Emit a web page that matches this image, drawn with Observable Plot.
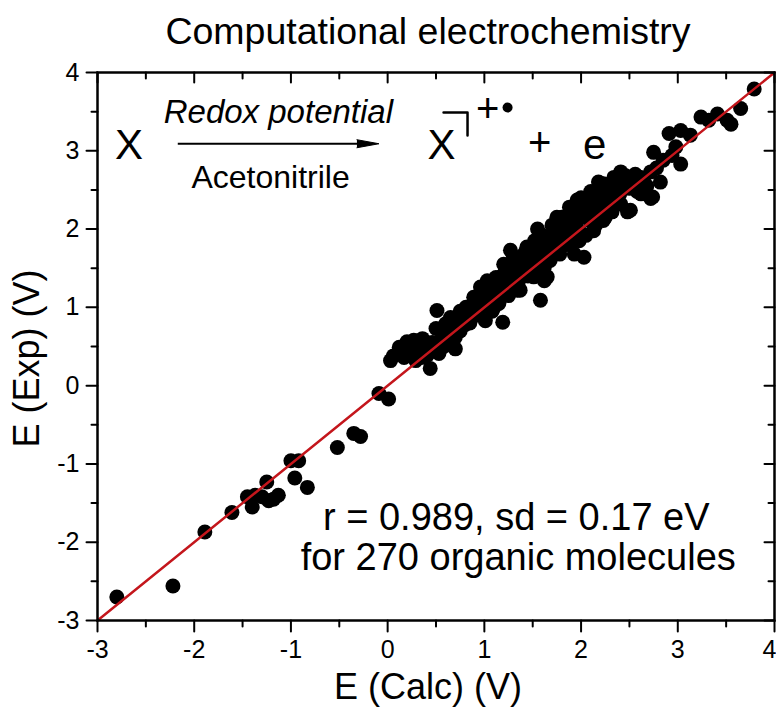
<!DOCTYPE html>
<html><head><meta charset="utf-8">
<script src="https://cdn.jsdelivr.net/npm/d3@7"></script>
<script src="https://cdn.jsdelivr.net/npm/@observablehq/plot@0.6"></script>
<style>body{margin:0;background:#fff}</style>
</head><body><div id="chart"></div>
<script>
// E (Calc) values, V
const calc = [
 -2.80,-2.22,-1.89,-1.61,-1.45,-1.40,-1.37,-1.30,-1.25,-1.23,
 -1.13,-1.18,-1.00,-0.92,-0.96,-0.83,-0.52,-0.35,-0.28,-0.09,
  0.01, 0.03, 0.06, 0.12, 0.20, 0.27, 0.36, 0.17, 0.29, 0.44,
  0.41, 0.53, 0.70, 0.51, 0.50, 0.60, 0.65, 0.75, 0.84, 0.93,
  0.86, 1.01, 1.19, 1.05, 1.13, 1.24, 1.34, 1.58, 1.51, 1.65,
  0.22, 0.32, 0.38, 0.46, 0.58, 0.63, 0.68, 0.72, 0.78, 0.80,
  0.88, 0.90, 0.95, 0.98, 0.55, 0.62, 0.48, 0.25, 0.70, 0.92,
  1.55, 1.27, 1.03, 0.89, 0.81, 1.17, 1.37, 1.44, 1.62, 1.72,
  1.82, 1.75, 1.89, 1.96, 2.03, 1.93, 1.62, 1.37, 2.13, 2.23,
  2.34, 2.41, 2.51, 2.23, 2.13, 2.62, 2.74, 2.62, 1.10, 0.96,
  2.75, 2.91, 3.03, 3.13, 3.24, 3.41, 3.55, 3.65, 3.79, 3.03,
  2.94, 2.72, 2.82, 2.72, 2.48, 2.41, 2.55, 2.27, 3.51, 3.32,
  1.05, 1.08, 1.12, 1.15, 1.18, 1.20, 1.22, 1.25, 1.28, 1.30,
  1.32, 1.35, 1.38, 1.40, 1.42, 1.45, 1.48, 1.50, 1.52, 1.55,
  1.58, 1.60, 1.63, 1.65, 1.68, 1.70, 1.73, 1.76, 1.78, 1.80,
  1.83, 1.85, 1.88, 1.90, 1.93, 1.95, 1.98, 2.00, 2.02, 2.05,
  2.08, 2.10, 2.12, 2.15, 2.18, 2.20, 2.22, 2.25, 2.28, 2.30,
  2.33, 2.36, 2.38, 2.40, 2.44, 2.46, 2.50, 2.53, 2.56, 2.58,
  2.65, 2.68, 2.78, 2.85, 2.98, 1.08, 1.15, 1.25, 1.35, 1.45,
  1.55, 1.68, 1.78, 1.88, 1.98, 2.05, 2.15, 2.25, 2.32, 1.00,
  1.12, 1.20, 1.30, 1.42, 1.52, 1.60, 1.70, 1.80, 1.88, 2.00,
  2.10, 2.18, 0.40, 0.30, 0.15, 0.35, 0.58, 0.75, 0.85, 0.66
];
// E (Exp) values, V
const expt = [
 -2.70,-2.56,-1.87,-1.62,-1.42,-1.55,-1.40,-1.42,-1.23,-1.47,
 -1.40,-1.45,-0.96,-0.96,-1.18,-1.30,-0.79,-0.61,-0.65,-0.10,
 -0.17, 0.32, 0.38, 0.49, 0.56, 0.58, 0.60, 0.36, 0.32, 0.22,
  0.39, 0.41, 0.47, 0.96, 0.73, 0.79, 0.87, 0.70, 1.00, 1.13,
  0.87, 0.83, 0.81, 1.30, 1.09, 1.39, 1.22, 1.09, 1.39, 1.39,
  0.48, 0.45, 0.52, 0.55, 0.62, 0.70, 0.78, 0.85, 0.90, 0.78,
  0.95, 1.05, 0.98, 1.08, 0.58, 0.55, 0.45, 0.40, 0.62, 0.90,
  2.00, 1.73, 1.34, 1.13, 1.00, 1.34, 1.60, 1.77, 1.51, 1.73,
  1.90, 2.15, 2.07, 2.37, 1.64, 1.68, 1.34, 1.22, 2.41, 2.58,
  2.66, 2.32, 2.24, 2.11, 1.98, 2.45, 2.41, 2.66, 1.00, 1.26,
  2.98, 3.22, 3.26, 3.20, 3.43, 3.47, 3.34, 3.54, 3.79, 2.83,
  2.94, 2.73, 2.60, 2.39, 2.22, 2.73, 2.56, 2.56, 3.39, 3.39,
  1.15, 1.22, 1.20, 1.28, 1.40, 1.25, 1.48, 1.30, 1.45, 1.55,
  1.38, 1.50, 1.45, 1.62, 1.52, 1.58, 1.68, 1.55, 1.72, 1.62,
  1.78, 1.68, 1.85, 1.72, 1.90, 1.80, 1.95, 1.85, 2.02, 1.78,
  2.05, 1.95, 2.15, 1.88, 2.20, 2.05, 2.25, 1.95, 2.30, 2.15,
  2.38, 2.10, 2.28, 2.45, 2.22, 2.50, 2.35, 2.45, 2.30, 2.55,
  2.42, 2.50, 2.62, 2.45, 2.58, 2.68, 2.52, 2.62, 2.70, 2.48,
  2.60, 2.55, 2.78, 2.88, 3.05, 0.95, 1.05, 1.15, 1.32, 1.40,
  1.45, 1.60, 1.68, 1.80, 1.85, 1.92, 2.05, 2.15, 2.22, 1.18,
  1.38, 1.55, 1.65, 1.70, 1.85, 1.92, 2.05, 2.15, 2.28, 2.40,
  2.48, 2.60, 0.48, 0.52, 0.45, 0.36, 0.50, 0.95, 0.80, 0.64
];
const majorTicks = [-3, -2, -1, 0, 1, 2, 3, 4];
const minorTicks = [-2.5, -1.5, -0.5, 0.5, 1.5, 2.5, 3.5];
const fitLine = [-3, 4];
const titleText = "Computational electrochemistry";
const xLabel = "E (Calc) (V)";
const yLabel = "E (Exp) (V)";
const statsLines = [
  {x: 1.33, y: -1.85, text: "r = 0.989, sd = 0.17 eV"},
  {x: 1.35, y: -2.36, text: "for 270 organic molecules"}
];
const bigLetters = [
  {x: -2.674, y: 2.90, text: "X"},
  {x: 0.557, y: 2.90, text: "X"},
  {x: 2.14, y: 2.90, text: "e"}
];
const arrowShaft = [{x1: -2.17, y1: 3.09, x2: -0.25, y2: 3.09}];
const arrowTip = [{x: -0.09, y: 3.09}];
const overArrow = [{x: -1.13, y: 3.36, text: "Redox potential"}];
const underArrow = [{x: -1.21, y: 2.53, text: "Acetonitrile"}];
const bracket = [{x: 0.578, y: 3.489}, {x: 0.826, y: 3.489}, {x: 0.826, y: 3.195}];
const superPlus = [{x: 1.033, y: 3.53, text: "+"}];
const radicalDot = [{x: 1.24, y: 3.553}];
const plusSign = [{x: 1.571, y: 3.093, text: "+"}];

const data = calc.map((x, i) => ({x, y: expt[i]}));
const tickShape = {draw(ctx, l) { ctx.moveTo(0, 0); ctx.lineTo(0, -l); }};
const fmt = d => String(d);
const lastTick = majorTicks[majorTicks.length - 1];
const innerXLabels = majorTicks.filter(d => d !== lastTick);
const edgeXLabels = majorTicks.filter(d => d === lastTick);
const tk = (ticks, side, len) => {
  const vertical = side === "left" || side === "right";
  return Plot.vector(ticks, {
    [vertical ? "y" : "x"]: d => d,
    frameAnchor: side, rotate: vertical ? -90 : 180, anchor: "start",
    length: len, shape: tickShape, stroke: "#000", strokeWidth: 2
  });
};

const chart = Plot.plot({
  width: 776, height: 707,
  marginLeft: 97, marginRight: 2, marginTop: 72, marginBottom: 87,
  style: {fontFamily: "'Liberation Sans', Arial, sans-serif", background: "#fff", color: "#000"},
  x: {domain: [-3, 4], axis: null},
  y: {domain: [-3, 4], axis: null},
  marks: [
    Plot.dot(data, {x: "x", y: "y", r: 7.5, fill: "#000", stroke: null}),
    Plot.line(fitLine, {x: d => d, y: d => d, stroke: "#c4161c", strokeWidth: 2.5}),
    Plot.frame({stroke: "#000", strokeWidth: 2.5}),
    // ticks: outward on bottom/left, inward on top/right
    tk(majorTicks, "bottom", 11), tk(minorTicks, "bottom", 6),
    tk(majorTicks, "top", 10), tk(minorTicks, "top", 6),
    tk(majorTicks, "left", 11), tk(minorTicks, "left", 6),
    tk(majorTicks, "right", 10), tk(minorTicks, "right", 6),
    // tick labels
    Plot.text(innerXLabels, {x: d => d, frameAnchor: "bottom", dy: 20, lineAnchor: "top", textAnchor: "middle", text: fmt, fontSize: 25, fill: "#000"}),
    Plot.text(edgeXLabels, {x: d => d, frameAnchor: "bottom", dy: 20, dx: 2, lineAnchor: "top", textAnchor: "end", text: fmt, fontSize: 25, fill: "#000"}),
    Plot.text(majorTicks, {y: d => d, frameAnchor: "left", dx: -18, textAnchor: "end", text: fmt, fontSize: 25, fill: "#000"}),
    // axis labels and title
    Plot.text([xLabel], {frameAnchor: "bottom", dx: -8, dy: 78, lineAnchor: "bottom", textAnchor: "middle", text: d => d, fontSize: 36, fill: "#000"}),
    Plot.text([yLabel], {frameAnchor: "left", dx: -59, dy: 12, rotate: -90, lineAnchor: "bottom", textAnchor: "middle", text: d => d, fontSize: 36, fill: "#000"}),
    Plot.text([titleText], {frameAnchor: "top", dx: -8, dy: -29, lineAnchor: "bottom", textAnchor: "middle", text: d => d, fontSize: 37.5, fill: "#000"}),
    // reaction annotation
    Plot.text(bigLetters, {x: "x", y: "y", text: "text", lineAnchor: "bottom", fontSize: 42, fill: "#000"}),
    Plot.link(arrowShaft, {x1: "x1", y1: "y1", x2: "x2", y2: "y2", stroke: "#000", strokeWidth: 2}),
    Plot.vector(arrowTip, {x: "x", y: "y", rotate: 90, anchor: "end", length: 22, r: 4, shape: "spike", fill: "#000", stroke: "#000", strokeWidth: 1}),
    Plot.text(overArrow, {x: "x", y: "y", text: "text", lineAnchor: "bottom", fontSize: 33, fontStyle: "italic", fill: "#000"}),
    Plot.text(underArrow, {x: "x", y: "y", text: "text", lineAnchor: "bottom", fontSize: 32, fill: "#000"}),
    Plot.line(bracket, {x: "x", y: "y", stroke: "#000", strokeWidth: 2.5, curve: "linear"}),
    Plot.text(superPlus, {x: "x", y: "y", text: "text", fontSize: 40, fill: "#000"}),
    Plot.dot(radicalDot, {x: "x", y: "y", r: 5, fill: "#000"}),
    Plot.text(plusSign, {x: "x", y: "y", text: "text", fontSize: 40, fill: "#000"}),
    // statistics
    Plot.text(statsLines, {x: "x", y: "y", text: "text", lineAnchor: "bottom", fontSize: 38, fill: "#000"})
  ]
});
document.getElementById("chart").append(chart);
</script>
</body></html>
